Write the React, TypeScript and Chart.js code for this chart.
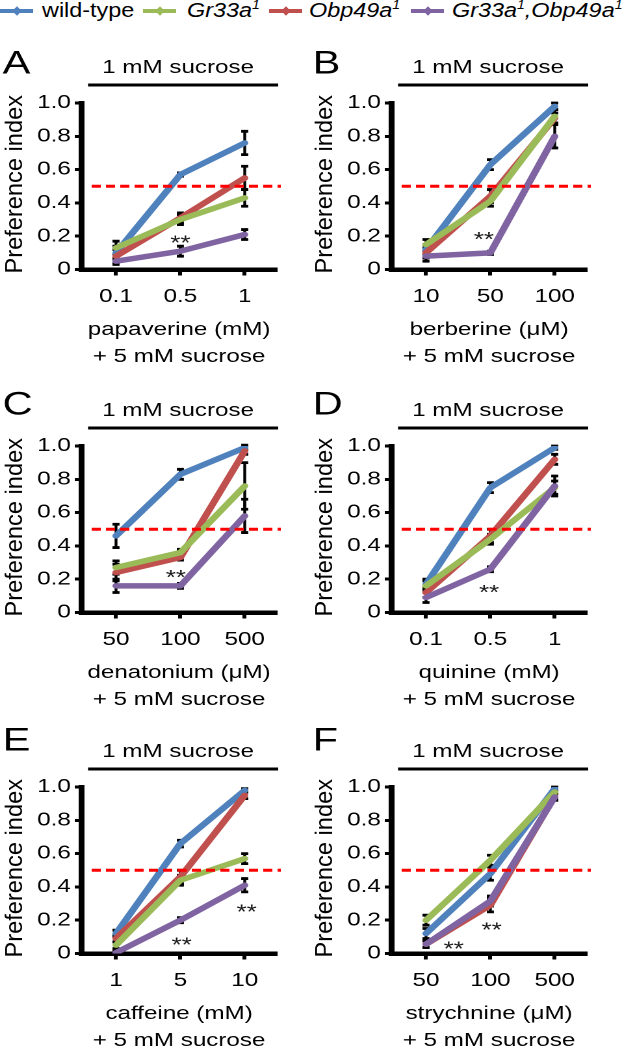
import React, { useEffect, useRef } from "react";
import { Chart, registerables } from "chart.js";

Chart.register(...registerables);

const FONT = '"Liberation Sans", Arial, Helvetica, sans-serif';

// ---------- shared data ----------
const SERIES_NAMES = ["wild-type", "Gr33a1", "Obp49a1", "Gr33a1,Obp49a1"];
const SERIES_COLORS = ["#4f81bd", "#9bbb59", "#c0504d", "#8064a2"];
const SERIES_ORDER = [3, 1, 2, 0];
const Y_TICKS = [0, 0.2, 0.4, 0.6, 0.8, 1.0];
const Y_LABEL = "Preference index";
const PANEL_TITLE = "1 mM sucrose";
const CONTROL_LEVEL = 0.5;
const STAR_TEXT = "**";

// ---------- panel A: papaverine ----------
const A_DOSES = ["0.1", "0.5", "1"];
const A_XLABEL = ["papaverine (mM)", "+ 5 mM sucrose"];
const A_WT = [0.10, 0.57, 0.76];
const A_WT_SEM = [0.04, 0.01, 0.07];
const A_GR = [0.13, 0.30, 0.43];
const A_GR_SEM = [0.04, 0.03, 0.05];
const A_OBP = [0.08, 0.31, 0.55];
const A_OBP_SEM = [0.04, 0.03, 0.07];
const A_DBL = [0.05, 0.11, 0.21];
const A_DBL_SEM = [0.02, 0.03, 0.03];
const A_STARS = [{ x: 1.0, y: 0.19 }];

// ---------- panel B: berberine ----------
const B_DOSES = ["10", "50", "100"];
const B_XLABEL = ["berberine (\u03bcM)", "+ 5 mM sucrose"];
const B_WT = [0.12, 0.63, 0.98];
const B_WT_SEM = [0.03, 0.03, 0.02];
const B_GR = [0.15, 0.41, 0.92];
const B_GR_SEM = [0.03, 0.03, 0.04];
const B_OBP = [0.10, 0.44, 0.91];
const B_OBP_SEM = [0.03, 0.04, 0.03];
const B_DBL = [0.08, 0.10, 0.80];
const B_DBL_SEM = [0.03, 0.01, 0.07];
const B_STARS = [{ x: 0.9, y: 0.21 }];

// ---------- panel C: denatonium ----------
const C_DOSES = ["50", "100", "500"];
const C_XLABEL = ["denatonium (\u03bcM)", "+ 5 mM sucrose"];
const C_WT = [0.46, 0.83, 0.99];
const C_WT_SEM = [0.07, 0.03, 0.015];
const C_GR = [0.27, 0.36, 0.76];
const C_GR_SEM = [0.04, 0.02, 0.14];
const C_OBP = [0.24, 0.33, 0.97];
const C_OBP_SEM = [0.05, 0.015, 0.02];
const C_DBL = [0.16, 0.16, 0.58];
const C_DBL_SEM = [0.04, 0.015, 0.1];
const C_STARS = [{ x: 0.93, y: 0.24 }];

// ---------- panel D: quinine ----------
const D_DOSES = ["0.1", "0.5", "1"];
const D_XLABEL = ["quinine (mM)", "+ 5 mM sucrose"];
const D_WT = [0.17, 0.75, 0.99];
const D_WT_SEM = [0.03, 0.03, 0.01];
const D_GR = [0.16, 0.44, 0.75];
const D_GR_SEM = [0.03, 0.03, 0.04];
const D_OBP = [0.12, 0.46, 0.92];
const D_OBP_SEM = [0.03, 0.04, 0.03];
const D_DBL = [0.09, 0.26, 0.76];
const D_DBL_SEM = [0.03, 0.015, 0.06];
const D_STARS = [{ x: 0.98, y: 0.15 }];

// ---------- panel E: caffeine ----------
const E_DOSES = ["1", "5", "10"];
const E_XLABEL = ["caffeine (mM)", "+ 5 mM sucrose"];
const E_WT = [0.12, 0.66, 0.98];
const E_WT_SEM = [0.02, 0.02, 0.01];
const E_GR = [0.05, 0.44, 0.57];
const E_GR_SEM = [0.02, 0.03, 0.03];
const E_OBP = [0.09, 0.46, 0.95];
const E_OBP_SEM = [0.02, 0.04, 0.02];
const E_DBL = [0.005, 0.2, 0.41];
const E_DBL_SEM = [0.01, 0.015, 0.04];
const E_STARS = [{ x: 1.02, y: 0.08 }, { x: 2.03, y: 0.28 }];

// ---------- panel F: strychnine ----------
const F_DOSES = ["50", "100", "500"];
const F_XLABEL = ["strychnine (\u03bcM)", "+ 5 mM sucrose"];
const F_WT = [0.12, 0.48, 0.99];
const F_WT_SEM = [0.03, 0.04, 0.01];
const F_GR = [0.2, 0.56, 0.97];
const F_GR_SEM = [0.03, 0.03, 0.01];
const F_OBP = [0.056, 0.29, 0.945];
const F_OBP_SEM = [0.02, 0.04, 0.02];
const F_DBL = [0.056, 0.315, 0.94];
const F_DBL_SEM = [0.02, 0.03, 0.02];
const F_STARS = [{ x: 0.43, y: 0.056 }, { x: 1.02, y: 0.17 }];

// ---------- layout (not data) ----------
const STRETCH = 1.3; // horizontal stretch of each panel
const SHIFT = 12; // canvas starts this far above the panel's nominal top
const CW = 240;
const CH = 332;
const PAD_TOP = 53 + SHIFT;
const PLOT_BOTTOM = 219.5 + SHIFT;
const Y_AXIS_W = 62.5;
const PAD_RIGHT = 27;
const X_MIN = -0.54;
const X_MAX = 2.5;
const TICK_FONT = 18.6;

type Spec = {
  letter: string;
  letterY: number;
  doses: string[];
  xlabel: string[];
  values: number[][];
  sems: number[][];
  stars: { x: number; y: number }[];
  left: number;
  top: number;
};

const PANELS: Spec[] = [
  { letter: "A", letterY: 13, doses: A_DOSES, xlabel: A_XLABEL, values: [A_WT, A_GR, A_OBP, A_DBL], sems: [A_WT_SEM, A_GR_SEM, A_OBP_SEM, A_DBL_SEM], stars: A_STARS, left: 0, top: 50 },
  { letter: "B", letterY: 13, doses: B_DOSES, xlabel: B_XLABEL, values: [B_WT, B_GR, B_OBP, B_DBL], sems: [B_WT_SEM, B_GR_SEM, B_OBP_SEM, B_DBL_SEM], stars: B_STARS, left: 310, top: 50 },
  { letter: "C", letterY: 11, doses: C_DOSES, xlabel: C_XLABEL, values: [C_WT, C_GR, C_OBP, C_DBL], sems: [C_WT_SEM, C_GR_SEM, C_OBP_SEM, C_DBL_SEM], stars: C_STARS, left: 0, top: 393 },
  { letter: "D", letterY: 11, doses: D_DOSES, xlabel: D_XLABEL, values: [D_WT, D_GR, D_OBP, D_DBL], sems: [D_WT_SEM, D_GR_SEM, D_OBP_SEM, D_DBL_SEM], stars: D_STARS, left: 310, top: 393 },
  { letter: "E", letterY: 6, doses: E_DOSES, xlabel: E_XLABEL, values: [E_WT, E_GR, E_OBP, E_DBL], sems: [E_WT_SEM, E_GR_SEM, E_OBP_SEM, E_DBL_SEM], stars: E_STARS, left: 0, top: 734 },
  { letter: "F", letterY: 6, doses: F_DOSES, xlabel: F_XLABEL, values: [F_WT, F_GR, F_OBP, F_DBL], sems: [F_WT_SEM, F_GR_SEM, F_OBP_SEM, F_DBL_SEM], stars: F_STARS, left: 310, top: 734 },
];

function makeDecor(spec: Spec) {
  return {
    id: "panelDecor",
    beforeDatasetsDraw(chart: any) {
      const { ctx } = chart;
      const xs = chart.scales.x;
      const ys = chart.scales.y;
      ctx.save();
      ctx.strokeStyle = "#000";
      chart.data.datasets.forEach((ds: any) => {
        ds.data.forEach((p: any, j: number) => {
          const e = ds.sem[j];
          const px = xs.getPixelForValue(p.x);
          const t = ys.getPixelForValue(p.y + e);
          const b = ys.getPixelForValue(p.y - e);
          ctx.lineWidth = 2.2;
          ctx.beginPath();
          ctx.moveTo(px, t);
          ctx.lineTo(px, b);
          ctx.stroke();
          ctx.lineWidth = 2.8;
          ctx.beginPath();
          ctx.moveTo(px - 2.7, t);
          ctx.lineTo(px + 2.7, t);
          ctx.moveTo(px - 2.7, b);
          ctx.lineTo(px + 2.7, b);
          ctx.stroke();
        });
      });
      ctx.restore();
    },
    afterDatasetsDraw(chart: any) {
      const { ctx, chartArea } = chart;
      const xs = chart.scales.x;
      const ys = chart.scales.y;
      ctx.save();
      const yy = ys.getPixelForValue(CONTROL_LEVEL);
      ctx.strokeStyle = "#ff0000";
      ctx.lineWidth = 3;
      ctx.setLineDash([7, 4]);
      ctx.beginPath();
      ctx.moveTo(chartArea.left + 8, yy);
      ctx.lineTo(chartArea.right + 3, yy);
      ctx.stroke();
      ctx.setLineDash([]);
      ctx.fillStyle = "#1a1a1a";
      ctx.font = `20px ${FONT}`;
      ctx.textAlign = "center";
      ctx.textBaseline = "alphabetic";
      spec.stars.forEach((s) => {
        ctx.fillText(STAR_TEXT, xs.getPixelForValue(s.x), ys.getPixelForValue(s.y) + 11.5);
      });
      ctx.restore();
    },
    afterDraw(chart: any) {
      const { ctx, chartArea } = chart;
      ctx.save();
      ctx.fillStyle = "#000";
      // panel letter
      ctx.font = `32px ${FONT}`;
      ctx.textAlign = "left";
      ctx.textBaseline = "middle";
      ctx.fillText(spec.letter, 2, spec.letterY + SHIFT + 1.5);
      // condition title and bar
      ctx.font = `${TICK_FONT}px ${FONT}`;
      ctx.textAlign = "center";
      ctx.fillText(PANEL_TITLE, 137, 18 + SHIFT);
      ctx.strokeStyle = "#000";
      ctx.lineWidth = 3;
      ctx.beginPath();
      ctx.moveTo(67.7, 35 + SHIFT);
      ctx.lineTo(chartArea.right + 1, 35 + SHIFT);
      ctx.stroke();
      // y axis title
      ctx.translate(12, (chartArea.top + chartArea.bottom) / 2 - 2);
      ctx.rotate(-Math.PI / 2);
      ctx.scale(1.27, 1);
      ctx.fillText(Y_LABEL, 0, 0);
      ctx.restore();
    },
  };
}

function buildConfig(spec: Spec): any {
  const tickFont = { family: FONT, size: TICK_FONT };
  return {
    type: "line",
    data: {
      datasets: spec.values.map((vals, i) => ({
        label: SERIES_NAMES[i],
        data: vals.map((v, j) => ({ x: j, y: v })),
        sem: spec.sems[i],
        borderColor: SERIES_COLORS[i],
        backgroundColor: SERIES_COLORS[i],
        borderWidth: 5.5,
        pointRadius: 0,
        pointHoverRadius: 0,
        tension: 0,
        borderJoinStyle: "round",
        borderCapStyle: "round",
        order: SERIES_ORDER[i],
        fill: false,
      })),
    },
    options: {
      animation: false,
      responsive: false,
      devicePixelRatio: 2,
      events: [],
      layout: { padding: { top: PAD_TOP, right: PAD_RIGHT, left: 0, bottom: 0 } },
      plugins: {
        legend: { display: false },
        tooltip: { enabled: false },
        title: { display: false },
      },
      scales: {
        x: {
          type: "linear",
          bounds: "data",
          min: X_MIN,
          max: X_MAX,
          afterBuildTicks: (scale: any) => {
            scale.ticks = spec.doses.map((_, i) => ({ value: i }));
          },
          afterFit: (scale: any) => {
            scale.height = CH - PLOT_BOTTOM;
          },
          ticks: {
            font: tickFont,
            color: "#000",
            padding: 10,
            autoSkip: false,
            maxRotation: 0,
            callback: (v: any) => spec.doses[Math.round(v)] ?? "",
          },
          grid: { drawOnChartArea: false, drawTicks: true, tickLength: 6, tickWidth: 3, tickColor: "#000" },
          border: { display: true, color: "#000", width: 4.5 },
          title: {
            display: true,
            text: spec.xlabel,
            color: "#000",
            font: { family: FONT, size: TICK_FONT, lineHeight: 1.435 },
            padding: { top: 0, bottom: 0 },
          },
        },
        y: {
          type: "linear",
          min: 0,
          max: 1,
          afterBuildTicks: (scale: any) => {
            scale.ticks = Y_TICKS.map((v) => ({ value: v }));
          },
          afterFit: (scale: any) => {
            scale.width = Y_AXIS_W;
          },
          ticks: {
            font: tickFont,
            color: "#000",
            padding: 3,
            callback: (v: any) => (Number(v) === 0 ? "0" : Number(v).toFixed(1)),
          },
          grid: { drawOnChartArea: false, drawTicks: true, tickLength: 5, tickWidth: 3, tickColor: "#000" },
          border: { display: true, color: "#000", width: 4.5 },
        },
      },
    },
    plugins: [makeDecor(spec)],
  };
}

function Panel({ spec }: { spec: Spec }) {
  const ref = useRef<HTMLCanvasElement>(null);
  useEffect(() => {
    if (!ref.current) return;
    const chart = new Chart(ref.current, buildConfig(spec));
    return () => chart.destroy();
  }, [spec]);
  return (
    <div
      style={{
        position: "absolute",
        left: spec.left,
        top: spec.top - SHIFT,
        width: CW,
        height: CH,
        transform: `scaleX(${STRETCH})`,
        transformOrigin: "0 0",
      }}
    >
      <canvas ref={ref} width={CW} height={CH} style={{ display: "block", width: CW, height: CH }} />
    </div>
  );
}

// legend pieces: [base text, superscript] segments
const LEGEND_PARTS: [string, string][][] = [
  [["wild-type", ""]],
  [["Gr33a", "1"]],
  [["Obp49a", "1"]],
  [["Gr33a", "1"], [",Obp49a", "1"]],
];
const LEGEND_ITALIC = [false, true, true, true];
const LEGEND_MARK_X = [0, 143, 269, 411];
const LEGEND_TEXT_X = [42, 187, 309, 452];

function Legend() {
  return (
    <>
      {SERIES_NAMES.map((name, i) => (
        <React.Fragment key={name}>
          <div style={{ position: "absolute", left: LEGEND_MARK_X[i], top: 9, width: 33, height: 4, background: SERIES_COLORS[i] }} />
          <div
            style={{
              position: "absolute",
              left: LEGEND_MARK_X[i] + 12.5,
              top: 6.5,
              width: 8,
              height: 8,
              background: SERIES_COLORS[i],
              transform: "rotate(45deg) scale(0.85, 0.85)",
            }}
          />
          <div
            style={{
              position: "absolute",
              left: LEGEND_TEXT_X[i],
              top: -1,
              fontFamily: FONT,
              fontSize: 20,
              lineHeight: "22px",
              whiteSpace: "nowrap",
              color: "#000",
              fontStyle: LEGEND_ITALIC[i] ? "italic" : "normal",
              transform: "scaleX(1.17)",
              transformOrigin: "0 0",
            }}
          >
            {LEGEND_PARTS[i].map(([base, sup], k) => (
              <React.Fragment key={k}>
                {base}
                {sup ? (
                  <span style={{ fontSize: 12, position: "relative", top: -8 }}>{sup}</span>
                ) : null}
              </React.Fragment>
            ))}
          </div>
        </React.Fragment>
      ))}
    </>
  );
}

export default function App() {
  return (
    <div
      style={{
        position: "absolute",
        left: 0,
        top: 0,
        width: 625,
        height: 1050,
        overflow: "hidden",
        background: "#fff",
      }}
    >
      <Legend />
      {PANELS.map((p) => (
        <Panel key={p.letter} spec={p} />
      ))}
    </div>
  );
}
